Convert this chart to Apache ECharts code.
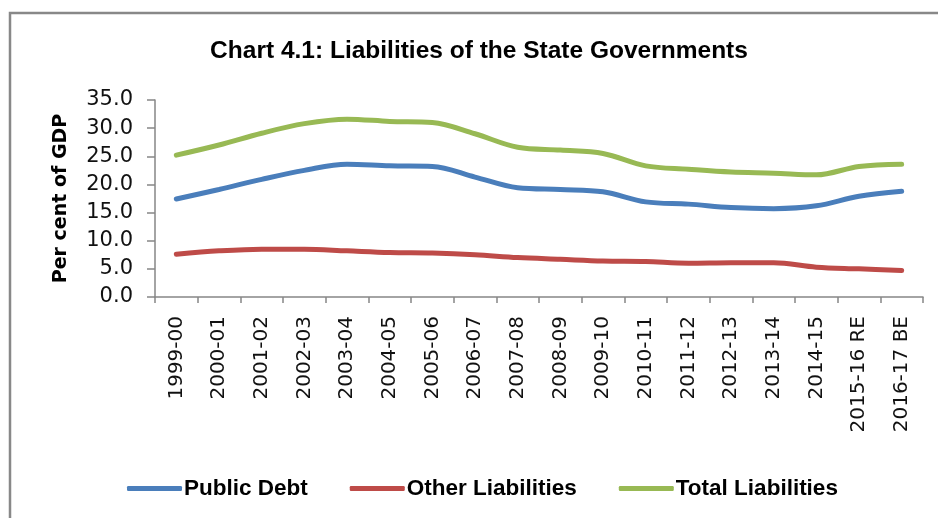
<!DOCTYPE html>
<html>
<head>
<meta charset="utf-8">
<script src="https://cdn.jsdelivr.net/npm/echarts@6/dist/echarts.min.js"></script>
<style>
html,body{margin:0;padding:0;background:#fff;}
#chart{width:938px;height:518px;}
</style>
</head>
<body>
<div id="chart"></div>
<script>
const categories = ['1999-00','2000-01','2001-02','2002-03','2003-04','2004-05','2005-06','2006-07','2007-08','2008-09','2009-10','2010-11','2011-12','2012-13','2013-14','2014-15','2015-16 RE','2016-17 BE'];
const publicDebt = [17.4, 19.1, 20.9, 22.5, 23.6, 23.3, 23.2, 21.3, 19.4, 19.1, 18.7, 16.9, 16.5, 15.9, 15.7, 16.2, 17.9, 18.8];
const otherLiabilities = [7.6, 8.2, 8.5, 8.5, 8.2, 7.9, 7.8, 7.5, 7.0, 6.7, 6.4, 6.3, 6.0, 6.1, 6.1, 5.3, 5.0, 4.7];
const totalLiabilities = [25.2, 27.0, 29.1, 30.8, 31.6, 31.2, 31.0, 29.0, 26.6, 26.1, 25.5, 23.3, 22.7, 22.2, 22.0, 21.7, 23.2, 23.6];
const yTicks = [0, 5, 10, 15, 20, 25, 30, 35];

const chart = echarts.init(document.getElementById('chart'), null, {renderer: 'canvas'});
const boldFont = '"Liberation Sans", Arial, sans-serif';
const axisFont = '"DejaVu Sans", Verdana, sans-serif';

function lineSeries(name, data, color) {
  return {
    name: name, type: 'line', data: data, smooth: 0.35,
    symbol: 'none', lineStyle: {width: 5, color: color, cap: 'round'},
    itemStyle: {color: color}
  };
}

chart.setOption({
  animation: false,
  backgroundColor: '#fff',
  title: {
    text: 'Chart 4.1: Liabilities of the State Governments',
    left: 474, top: 34, textAlign: 'center',
    textStyle: {fontFamily: boldFont, fontWeight: 'bold', fontSize: 24.5, color: '#000'}
  },
  grid: {left: 155, right: 15, top: 100, bottom: 221, containLabel: false},
  legend: {
    left: 122, top: 472, itemWidth: 55, itemHeight: 5, itemGap: 42,
    icon: 'roundRect',
    textStyle: {fontFamily: boldFont, fontWeight: 'bold', fontSize: 22.5, color: '#000', padding: [0,0,0,-3]},
    data: ['Public Debt', 'Other Liabilities', 'Total Liabilities']
  },
  xAxis: {
    type: 'category', data: categories, boundaryGap: true,
    axisLine: {lineStyle: {color: '#868686', width: 1.5}},
    axisTick: {show: true, length: 6, alignWithLabel: false, lineStyle: {color: '#868686', width: 1.5}},
    axisLabel: {rotate: 90, interval: 0, margin: 19, fontFamily: axisFont, fontSize: 20, color: '#111'}
  },
  yAxis: {
    type: 'value', min: 0, max: 35, interval: 5,
    name: 'Per cent of GDP', nameLocation: 'middle', nameRotate: 90, nameGap: 84,
    nameTextStyle: {fontFamily: axisFont, fontWeight: 'bold', fontSize: 19, color: '#000'},
    splitLine: {show: false},
    axisLine: {show: true, lineStyle: {color: '#868686', width: 1.5}},
    axisTick: {show: true, length: 8, lineStyle: {color: '#868686', width: 1.5}},
    axisLabel: {margin: 22, fontFamily: axisFont, fontSize: 21, color: '#111',
      formatter: v => yTicks.includes(v) ? v.toFixed(1) : ''}
  },
  graphic: [{
    type: 'polyline', silent: true,
    shape: {points: [[10, 518], [10, 13], [938, 13]]},
    style: {stroke: '#888', lineWidth: 2.5, fill: null}
  }],
  series: [
    lineSeries('Public Debt', publicDebt, '#4A7EBB'),
    lineSeries('Other Liabilities', otherLiabilities, '#BE4B48'),
    lineSeries('Total Liabilities', totalLiabilities, '#98B954')
  ]
});
</script>
</body>
</html>
